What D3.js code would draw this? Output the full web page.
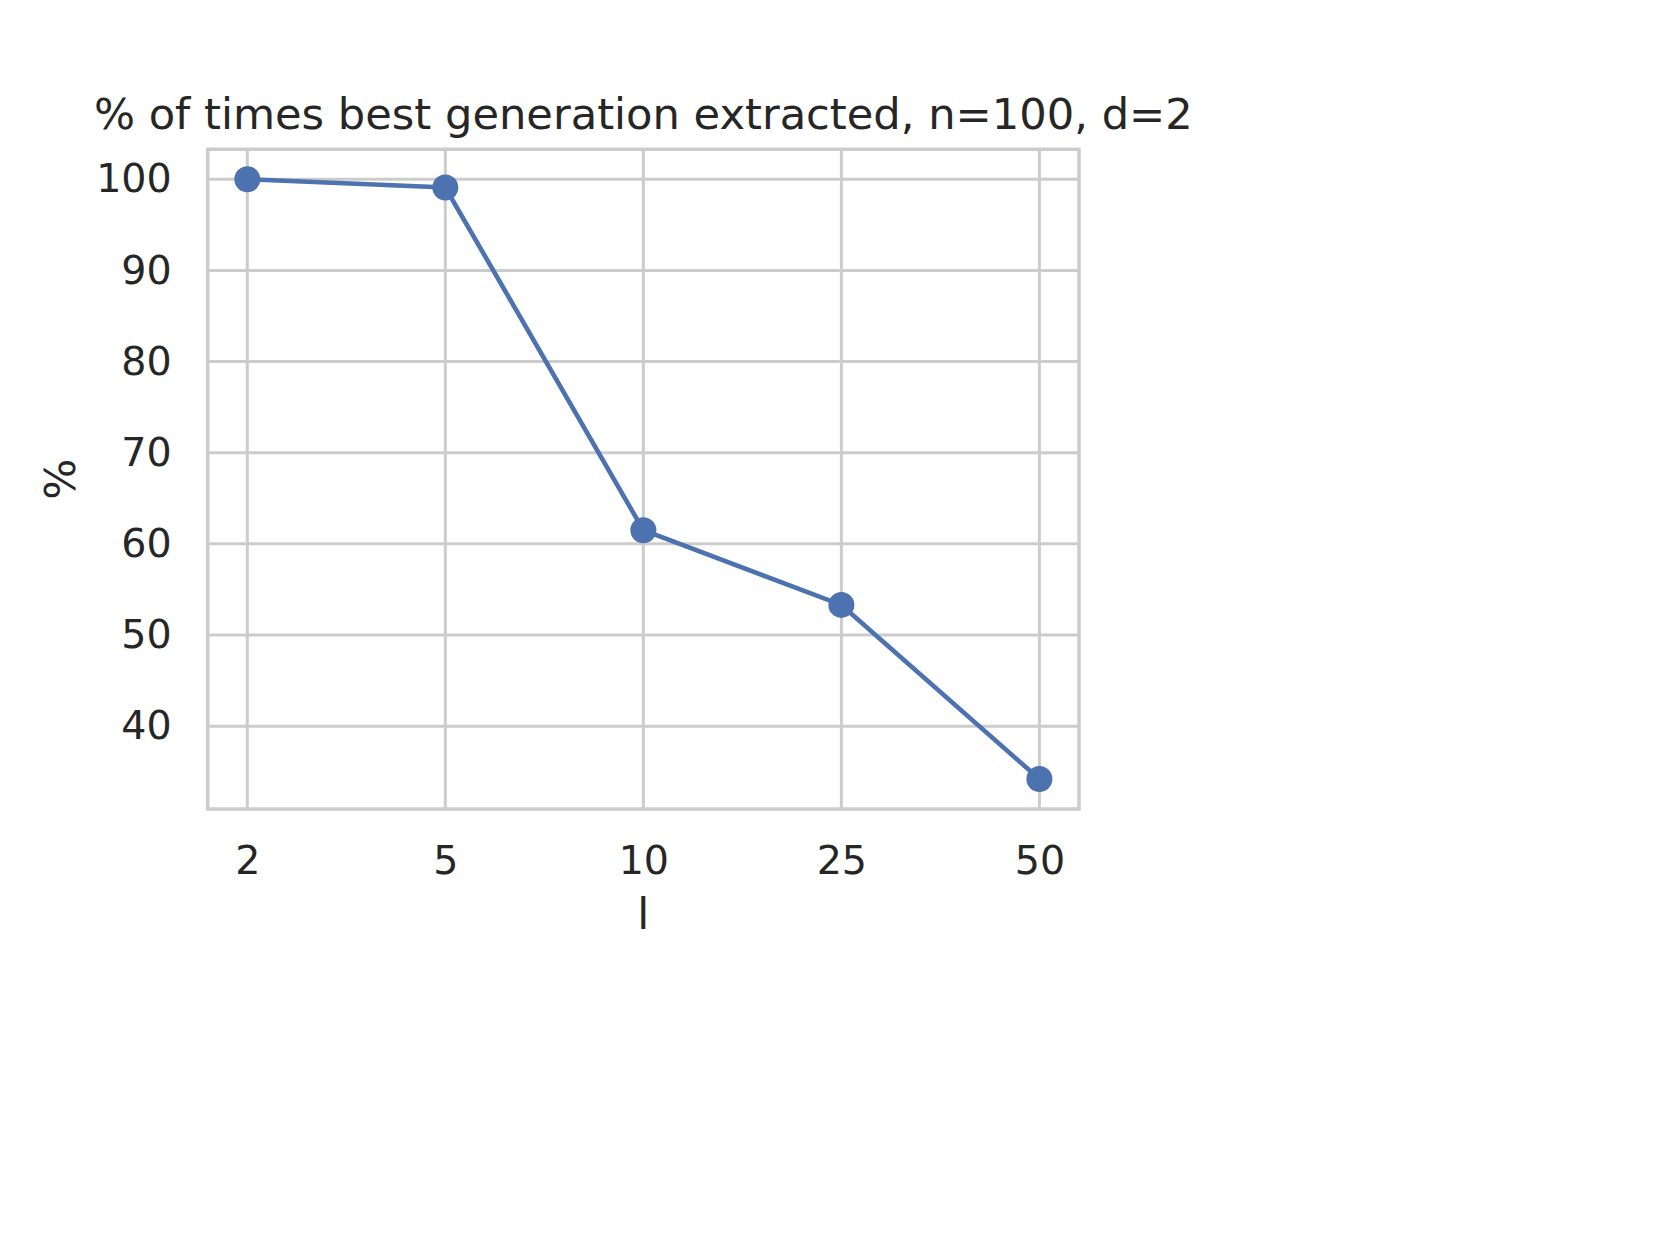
<!DOCTYPE html>
<html>
<head>
<meta charset="utf-8">
<script src="https://cdn.jsdelivr.net/npm/d3@7"></script>
<style>
  body { margin: 0; background: #fff; }
  svg { display: block; }
  text { font-family: "DejaVu Sans", sans-serif; fill: #262626; }
</style>
</head>
<body>
<div id="chart"></div>
<script>
// Data
const L_VALUES = ['2', '5', '10', '25', '50'];
const PERCENT = [100, 99.1, 61.5, 53.3, 34.2];
const Y_TICKS = [40, 50, 60, 70, 80, 90, 100];

const TITLE = '% of times best generation extracted, n=100, d=2';
const X_LABEL = 'l';
const Y_LABEL = '%';

// Layout
const WIDTH = 1660;
const HEIGHT = 1245;
const margin = {left: 207.7, right: 1079, top: 149.3, bottom: 809};
const LINE_COLOR = '#4c72b0';
const GRID_COLOR = '#cccccc';
const TICK_FONT = 39.6;
const LABEL_FONT = 43.2;

let svg = d3.select('#chart').append('svg')
    .attr('width', WIDTH)
    .attr('height', HEIGHT);

let xScale = d3.scalePoint()
    .domain(L_VALUES)
    .range([margin.left, margin.right])
    .padding(0.2);

// matplotlib-style 5% margins around the data range
const yMin = d3.min(PERCENT), yMax = d3.max(PERCENT);
const pad = (yMax - yMin) * 0.05;
let yScale = d3.scaleLinear()
    .domain([yMin - pad, yMax + pad])
    .range([margin.bottom, margin.top]);

// Grid lines
let grid = svg.append('g');
grid.selectAll('line.h')
    .data(Y_TICKS)
    .enter().append('line')
    .attr('x1', margin.left).attr('x2', margin.right)
    .attr('y1', function(d) { return yScale(d); })
    .attr('y2', function(d) { return yScale(d); })
    .attr('stroke', GRID_COLOR)
    .attr('stroke-width', 3);
grid.selectAll('line.v')
    .data(L_VALUES)
    .enter().append('line')
    .attr('y1', margin.top).attr('y2', margin.bottom)
    .attr('x1', function(d) { return xScale(d); })
    .attr('x2', function(d) { return xScale(d); })
    .attr('stroke', GRID_COLOR)
    .attr('stroke-width', 3);

// Frame
svg.append('rect')
    .attr('x', margin.left).attr('y', margin.top)
    .attr('width', margin.right - margin.left)
    .attr('height', margin.bottom - margin.top)
    .attr('fill', 'none')
    .attr('stroke', GRID_COLOR)
    .attr('stroke-width', 3.5);

// Axes (tick labels only, no tick marks)
let xAxis = svg.append('g')
    .attr('transform', 'translate(0,' + margin.bottom + ')')
    .call(d3.axisBottom(xScale).tickSize(0).tickPadding(37));
xAxis.select('.domain').remove();
xAxis.selectAll('text')
    .attr('font-size', TICK_FONT)
    .attr('font-family', '"DejaVu Sans", sans-serif')
    .attr('fill', '#262626');

let yAxis = svg.append('g')
    .attr('transform', 'translate(' + margin.left + ',0)')
    .call(d3.axisLeft(yScale).tickValues(Y_TICKS).tickSize(0).tickPadding(36));
yAxis.select('.domain').remove();
yAxis.selectAll('text')
    .attr('font-size', TICK_FONT)
    .attr('font-family', '"DejaVu Sans", sans-serif')
    .attr('fill', '#262626');

// Line + markers
let line = d3.line()
    .x(function(d, i) { return xScale(L_VALUES[i]); })
    .y(function(d) { return yScale(d); });

svg.append('path')
    .attr('d', line(PERCENT))
    .attr('fill', 'none')
    .attr('stroke', LINE_COLOR)
    .attr('stroke-width', 4.6);

svg.selectAll('circle.pt')
    .data(PERCENT)
    .enter().append('circle')
    .attr('cx', function(d, i) { return xScale(L_VALUES[i]); })
    .attr('cy', function(d) { return yScale(d); })
    .attr('r', 13)
    .attr('fill', LINE_COLOR);

// Title and axis labels
const midX = (margin.left + margin.right) / 2;
svg.append('text')
    .attr('x', midX)
    .attr('y', 129.3)
    .attr('text-anchor', 'middle')
    .attr('font-size', LABEL_FONT)
    .text(TITLE);

svg.append('text')
    .attr('x', midX)
    .attr('y', 928.5)
    .attr('text-anchor', 'middle')
    .attr('font-size', LABEL_FONT)
    .text(X_LABEL);

svg.append('text')
    .attr('transform', 'translate(75,' + ((margin.top + margin.bottom) / 2) + ') rotate(-90)')
    .attr('text-anchor', 'middle')
    .attr('font-size', LABEL_FONT)
    .text(Y_LABEL);
</script>
</body>
</html>
